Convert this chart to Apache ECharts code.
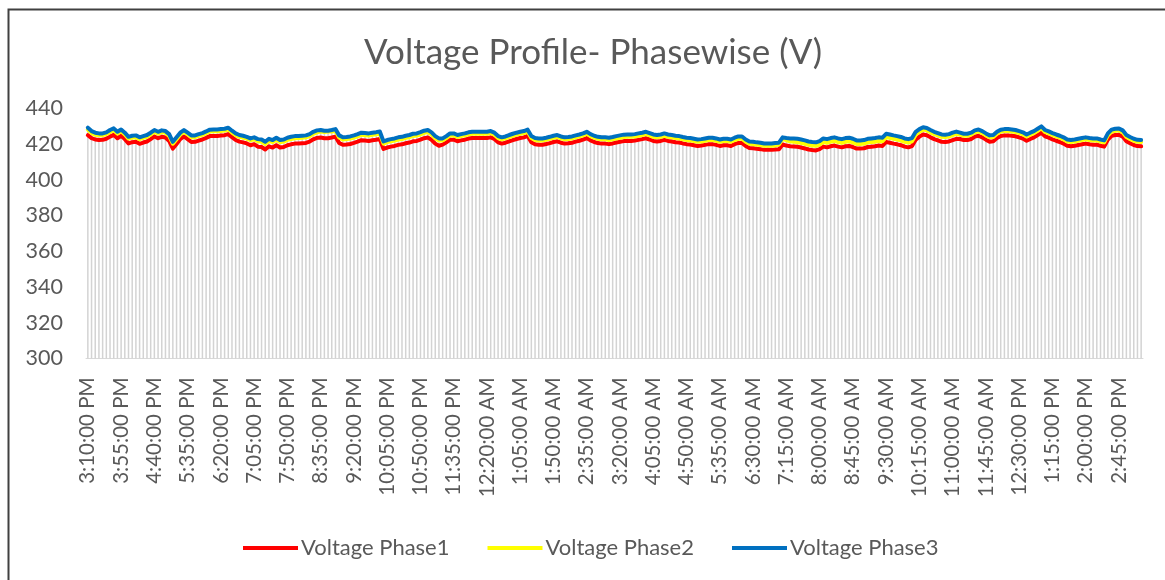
<!DOCTYPE html>
<html>
<head>
<meta charset="utf-8">
<script src="https://cdn.jsdelivr.net/npm/echarts@6/dist/echarts.min.js"></script>
<style>
html,body{margin:0;padding:0;background:#fff;}
#chart{width:1165px;height:580px;}
</style>
</head>
<body>
<div id="chart"></div>
<script>
const chartTitle = 'Voltage Profile- Phasewise (V)';
const seriesNames = ['Voltage Phase1', 'Voltage Phase2', 'Voltage Phase3'];
const yTicks = {min: 300, max: 440, interval: 20};

const timeLabels = [
"3:10:00 PM","3:15:00 PM","3:20:00 PM","3:25:00 PM","3:30:00 PM","3:35:00 PM","3:40:00 PM","3:45:00 PM","3:50:00 PM","3:55:00 PM",
"4:00:00 PM","4:05:00 PM","4:10:00 PM","4:15:00 PM","4:20:00 PM","4:25:00 PM","4:30:00 PM","4:35:00 PM","4:40:00 PM","4:45:00 PM","4:50:00 PM","4:55:00 PM",
"5:00:00 PM","5:15:00 PM","5:20:00 PM","5:25:00 PM","5:30:00 PM","5:35:00 PM","5:40:00 PM","5:45:00 PM","5:50:00 PM","5:55:00 PM",
"6:00:00 PM","6:05:00 PM","6:10:00 PM","6:15:00 PM","6:20:00 PM","6:25:00 PM","6:30:00 PM","6:35:00 PM","6:40:00 PM","6:45:00 PM","6:50:00 PM","6:55:00 PM",
"7:00:00 PM","7:05:00 PM","7:10:00 PM","7:15:00 PM","7:20:00 PM","7:25:00 PM","7:30:00 PM","7:35:00 PM","7:40:00 PM","7:45:00 PM","7:50:00 PM","7:55:00 PM",
"8:00:00 PM","8:05:00 PM","8:10:00 PM","8:15:00 PM","8:20:00 PM","8:25:00 PM","8:30:00 PM","8:35:00 PM","8:40:00 PM","8:45:00 PM","8:50:00 PM","8:55:00 PM",
"9:00:00 PM","9:05:00 PM","9:10:00 PM","9:15:00 PM","9:20:00 PM","9:25:00 PM","9:30:00 PM","9:35:00 PM","9:40:00 PM","9:45:00 PM","9:50:00 PM","9:55:00 PM",
"10:00:00 PM","10:05:00 PM","10:10:00 PM","10:15:00 PM","10:20:00 PM","10:25:00 PM","10:30:00 PM","10:35:00 PM","10:40:00 PM","10:45:00 PM","10:50:00 PM","10:55:00 PM",
"11:00:00 PM","11:05:00 PM","11:10:00 PM","11:15:00 PM","11:20:00 PM","11:25:00 PM","11:30:00 PM","11:35:00 PM","11:40:00 PM","11:45:00 PM","11:50:00 PM","11:55:00 PM",
"12:00:00 AM","12:05:00 AM","12:10:00 AM","12:15:00 AM","12:20:00 AM","12:25:00 AM","12:30:00 AM","12:35:00 AM","12:40:00 AM","12:45:00 AM","12:50:00 AM","12:55:00 AM",
"1:00:00 AM","1:05:00 AM","1:10:00 AM","1:15:00 AM","1:20:00 AM","1:25:00 AM","1:30:00 AM","1:35:00 AM","1:40:00 AM","1:45:00 AM","1:50:00 AM","1:55:00 AM",
"2:00:00 AM","2:05:00 AM","2:10:00 AM","2:15:00 AM","2:20:00 AM","2:25:00 AM","2:30:00 AM","2:35:00 AM","2:40:00 AM","2:45:00 AM","2:50:00 AM","2:55:00 AM",
"3:00:00 AM","3:05:00 AM","3:10:00 AM","3:15:00 AM","3:20:00 AM","3:25:00 AM","3:30:00 AM","3:35:00 AM","3:40:00 AM","3:45:00 AM","3:50:00 AM","3:55:00 AM",
"4:00:00 AM","4:05:00 AM","4:10:00 AM","4:15:00 AM","4:20:00 AM","4:25:00 AM","4:30:00 AM","4:35:00 AM","4:40:00 AM","4:45:00 AM","4:50:00 AM","4:55:00 AM",
"5:00:00 AM","5:05:00 AM","5:10:00 AM","5:15:00 AM","5:20:00 AM","5:25:00 AM","5:30:00 AM","5:35:00 AM","5:40:00 AM","5:45:00 AM","5:50:00 AM","5:55:00 AM",
"6:00:00 AM","6:15:00 AM","6:20:00 AM","6:25:00 AM","6:30:00 AM","6:35:00 AM","6:40:00 AM","6:45:00 AM","6:50:00 AM","6:55:00 AM",
"7:00:00 AM","7:05:00 AM","7:10:00 AM","7:15:00 AM","7:20:00 AM","7:25:00 AM","7:30:00 AM","7:35:00 AM","7:40:00 AM","7:45:00 AM","7:50:00 AM","7:55:00 AM",
"8:00:00 AM","8:05:00 AM","8:10:00 AM","8:15:00 AM","8:20:00 AM","8:25:00 AM","8:30:00 AM","8:35:00 AM","8:40:00 AM","8:45:00 AM","8:50:00 AM","8:55:00 AM",
"9:00:00 AM","9:05:00 AM","9:10:00 AM","9:15:00 AM","9:20:00 AM","9:25:00 AM","9:30:00 AM","9:35:00 AM","9:40:00 AM","9:45:00 AM","9:50:00 AM","9:55:00 AM",
"10:00:00 AM","10:05:00 AM","10:10:00 AM","10:15:00 AM","10:20:00 AM","10:25:00 AM","10:30:00 AM","10:35:00 AM","10:40:00 AM","10:45:00 AM","10:50:00 AM","10:55:00 AM",
"11:00:00 AM","11:05:00 AM","11:10:00 AM","11:15:00 AM","11:20:00 AM","11:25:00 AM","11:30:00 AM","11:35:00 AM","11:40:00 AM","11:45:00 AM","11:50:00 AM","11:55:00 AM",
"12:00:00 PM","12:05:00 PM","12:10:00 PM","12:15:00 PM","12:20:00 PM","12:25:00 PM","12:30:00 PM","12:35:00 PM","12:40:00 PM","12:45:00 PM","12:50:00 PM","12:55:00 PM",
"1:00:00 PM","1:05:00 PM","1:10:00 PM","1:15:00 PM","1:20:00 PM","1:25:00 PM","1:30:00 PM","1:35:00 PM","1:40:00 PM","1:45:00 PM","1:50:00 PM","1:55:00 PM",
"2:00:00 PM","2:05:00 PM","2:10:00 PM","2:15:00 PM","2:20:00 PM","2:25:00 PM","2:30:00 PM","2:35:00 PM","2:40:00 PM","2:45:00 PM","2:50:00 PM","2:55:00 PM",
"3:00:00 PM","3:05:00 PM","3:10:00 PM","3:15:00 PM"
];

const phase1 = [
424.8,423.2,422.4,422.1,422.2,422.8,424.0,425.0,423.1,424.5,422.6,420.2,420.9,421.1,420.0,420.7,421.3,422.6,424.1,423.1,
423.9,423.5,421.6,417.3,419.9,422.6,424.1,422.6,421.0,421.1,421.8,422.4,423.3,424.3,424.4,424.4,424.6,424.8,425.4,423.7,
422.1,421.2,420.8,420.2,419.2,419.8,418.4,418.2,416.8,418.6,417.9,419.2,417.9,418.2,419.2,419.7,420.1,420.1,420.3,420.5,
421.2,422.5,423.3,423.5,423.1,423.1,423.5,424.0,420.5,419.4,419.6,419.9,420.5,421.2,422.0,421.8,421.6,422.0,422.3,422.7,
417.1,417.9,418.4,418.8,419.4,419.7,420.3,420.7,421.4,421.6,422.3,423.1,423.5,422.2,420.1,418.9,419.5,420.8,422.3,422.3,
421.4,421.9,422.3,422.9,423.2,423.2,423.2,423.2,423.2,423.6,422.7,420.8,420.1,420.6,421.4,422.1,422.7,423.2,423.6,424.4,
420.8,419.7,419.5,419.5,419.9,420.4,421.0,421.4,420.6,420.1,420.3,420.6,421.2,421.7,422.3,423.2,421.9,421.0,420.4,420.1,
420.1,419.8,420.2,420.7,421.1,421.5,421.6,421.6,421.8,422.2,422.6,423.1,422.4,421.6,421.3,421.6,422.2,421.6,421.3,420.9,
420.7,420.2,419.8,419.6,419.2,418.8,419.0,419.4,419.8,419.8,419.4,418.8,419.2,419.2,418.8,419.8,420.5,420.5,418.8,417.7,
417.5,417.2,417.0,416.6,416.6,416.6,416.8,417.0,419.6,419.0,418.6,418.5,418.3,417.9,417.4,416.8,416.5,416.3,417.0,418.4,
418.0,418.6,419.0,418.4,418.0,418.6,418.8,418.2,417.3,417.3,417.5,418.2,418.4,418.6,419.0,418.8,421.0,420.6,420.1,419.7,
419.2,418.4,418.0,418.7,422.3,424.0,425.2,424.8,423.6,422.6,421.9,421.1,421.0,421.3,422.1,422.8,422.7,422.1,422.1,422.7,
424.0,424.5,423.6,422.3,421.2,421.4,423.2,424.4,424.7,424.7,424.5,424.2,423.6,422.9,421.7,422.7,423.6,424.9,426.2,424.2,
423.4,422.5,421.7,421.0,420.1,418.9,418.6,418.9,419.3,419.7,420.1,419.7,419.5,419.5,418.9,418.4,422.3,424.4,424.9,425.1,
424.0,421.4,420.3,419.3,418.7,418.6
];

const phase2 = [
428.0,426.0,425.1,424.8,424.8,425.4,426.6,427.6,425.7,427.0,425.2,422.9,423.5,423.7,422.6,423.3,423.9,425.2,426.7,425.7,
426.5,426.1,424.4,420.1,422.6,425.2,426.7,425.2,423.7,423.7,424.4,425.0,425.9,426.9,427.0,427.0,427.2,427.4,428.0,426.3,
424.8,423.9,423.5,422.9,422.0,422.6,421.4,421.2,419.9,421.6,420.9,422.2,420.9,421.2,422.2,422.7,423.1,423.2,423.4,423.6,
424.3,425.6,426.4,426.9,426.6,426.8,426.8,427.1,423.5,422.4,422.6,422.9,423.5,424.2,425.0,424.8,424.6,425.0,425.3,425.7,
420.1,420.9,421.4,421.8,422.4,422.7,423.3,423.7,424.4,424.6,425.3,426.1,426.5,425.2,423.1,421.8,421.9,423.2,424.7,424.7,
423.8,424.3,424.7,425.3,425.6,425.6,425.6,425.6,425.6,426.0,425.1,423.2,422.5,423.0,423.8,424.5,425.1,425.6,426.0,426.8,
423.2,422.1,421.9,421.9,422.3,422.8,423.4,423.8,423.0,422.5,422.7,423.0,423.6,424.1,424.7,425.6,424.3,423.4,422.8,422.5,
422.5,422.1,422.5,423.0,423.4,423.8,423.9,423.9,424.1,424.5,424.9,425.4,424.7,423.9,423.6,423.9,424.5,423.9,423.6,423.2,
423.0,422.5,422.1,421.9,421.5,421.1,421.3,421.7,422.1,422.1,421.7,421.1,421.5,421.5,421.1,422.1,422.8,422.8,421.1,420.0,
419.8,419.5,419.3,418.9,418.9,418.9,419.1,419.6,422.8,422.0,421.4,421.2,420.9,420.5,420.0,419.4,419.1,418.9,419.6,421.0,
420.6,421.2,421.6,421.0,420.6,421.2,421.4,420.8,419.9,419.9,420.1,420.8,421.0,421.2,421.6,421.4,423.7,423.3,422.8,422.4,
421.9,421.1,420.7,421.4,425.1,426.8,427.9,427.5,426.4,425.4,424.7,423.9,423.8,424.1,424.9,425.5,425.1,424.5,424.5,425.1,
426.4,426.9,426.0,424.7,423.6,423.8,425.6,426.8,427.1,427.1,426.9,426.6,426.0,425.3,424.1,425.1,426.0,427.3,428.6,426.6,
425.8,424.9,424.1,423.4,422.5,421.3,421.0,421.3,421.7,422.1,422.5,422.1,421.9,421.9,421.3,420.8,424.7,426.8,427.3,427.5,
426.4,423.8,422.7,421.7,421.1,421.0
];

const phase3 = [
429.0,427.1,426.2,425.8,425.8,426.4,427.7,428.6,426.7,428.0,426.2,423.9,424.5,424.7,423.6,424.3,424.9,426.2,427.7,426.7,
427.5,427.1,425.4,421.1,423.6,426.2,427.7,426.2,424.7,424.7,425.4,426.0,426.9,427.9,428.0,428.0,428.2,428.4,429.0,427.3,
425.8,424.9,424.5,423.9,423.0,423.6,422.6,422.4,421.1,422.8,422.1,423.4,422.1,422.4,423.4,423.9,424.3,424.3,424.5,424.7,
425.4,426.7,427.5,427.7,427.3,427.3,427.7,428.2,424.7,423.6,423.8,424.1,424.7,425.4,426.2,426.0,425.8,426.2,426.5,426.9,
421.3,422.1,422.6,423.0,423.6,423.9,424.5,424.9,425.6,425.8,426.5,427.3,427.7,426.4,424.3,423.0,423.0,424.3,425.8,425.8,
424.9,425.4,425.8,426.4,426.7,426.7,426.7,426.7,426.7,427.1,426.2,424.3,423.6,424.1,424.9,425.6,426.2,426.7,427.1,427.9,
424.3,423.2,423.0,423.0,423.4,423.9,424.5,424.9,424.1,423.6,423.8,424.1,424.7,425.2,425.8,426.7,425.4,424.5,423.9,423.6,
423.6,423.4,423.8,424.3,424.7,425.1,425.2,425.2,425.4,425.8,426.2,426.7,426.0,425.2,424.9,425.2,425.8,425.2,424.9,424.5,
424.3,423.8,423.4,423.2,422.8,422.4,422.6,423.0,423.4,423.4,423.0,422.4,422.8,422.8,422.4,423.4,424.1,424.1,422.4,421.3,
421.1,420.8,420.6,420.2,420.2,420.2,420.4,420.6,423.6,423.2,423.0,423.0,422.8,422.4,421.9,421.3,421.0,420.8,421.5,423.0,
422.6,423.2,423.6,423.0,422.6,423.2,423.4,422.8,421.9,421.9,422.1,422.8,423.0,423.2,423.6,423.4,425.6,425.2,424.7,424.3,
423.8,423.0,422.6,423.2,426.7,428.2,429.2,428.8,427.7,426.7,426.0,425.2,425.1,425.4,426.2,426.8,426.2,425.6,425.6,426.2,
427.5,428.0,427.1,425.8,424.7,424.9,426.7,427.9,428.2,428.2,428.0,427.7,427.1,426.4,425.2,426.2,427.1,428.4,429.7,427.7,
426.9,426.0,425.2,424.5,423.6,422.4,422.1,422.4,422.8,423.2,423.6,423.2,423.0,423.0,422.4,421.9,425.8,427.9,428.4,428.6,
427.5,424.9,423.8,422.8,422.2,422.1
];

const seriesColors = ['#ff0000', '#ffff00', '#0070c0'];
const textColor = '#595959';
const fontFam = 'Lato, "Open Sans", sans-serif';

const chart = echarts.init(document.getElementById('chart'), null, {renderer: 'canvas'});

const lineSeries = [phase1, phase2, phase3].map((d, k) => ({
  name: seriesNames[k],
  type: 'line',
  data: d,
  symbol: 'none',
  smooth: false,
  z: 3 + k,
  lineStyle: {color: seriesColors[k], width: 4, join: 'round', cap: 'round'},
  itemStyle: {color: seriesColors[k]}
}));

chart.setOption({
  animation: false,
  backgroundColor: '#ffffff',
  title: {
    text: chartTitle,
    left: 359,
    top: 30,
    textStyle: {fontFamily: fontFam, fontSize: 35, fontWeight: 'normal', color: textColor}
  },
  legend: {
    data: seriesNames,
    left: 238,
    top: 532,
    icon: 'rect',
    itemWidth: 55,
    itemHeight: 4,
    itemGap: 38,
    textStyle: {fontFamily: fontFam, fontSize: 22, color: textColor, padding: [0, 0, 0, -2]}
  },
  grid: {left: 86, right: 22, top: 108, bottom: 221.5, containLabel: false},
  xAxis: {
    type: 'category',
    data: timeLabels,
    boundaryGap: true,
    axisLine: {show: true, lineStyle: {color: '#d9d9d9', width: 1}},
    axisTick: {show: false},
    splitLine: {show: false},
    axisLabel: {interval: 8, rotate: 90, fontSize: 20.5, color: textColor, fontFamily: fontFam, margin: 19}
  },
  yAxis: {
    type: 'value',
    min: yTicks.min,
    max: yTicks.max,
    interval: yTicks.interval,
    axisLine: {show: false},
    axisTick: {show: false},
    splitLine: {show: false},
    axisLabel: {fontSize: 21.5, color: textColor, fontFamily: fontFam, margin: 23}
  },
  graphic: [{
    type: 'rect',
    shape: {x: 8.5, y: 9.5, width: 1200, height: 620},
    style: {fill: null, stroke: '#404040', lineWidth: 2},
    silent: true
  }],
  series: [{
    name: 'drop',
    type: 'bar',
    data: phase3,
    barWidth: 1.5,
    silent: true,
    z: 1,
    itemStyle: {color: '#d3d3d3'}
  }].concat(lineSeries)
});
</script>
</body>
</html>
